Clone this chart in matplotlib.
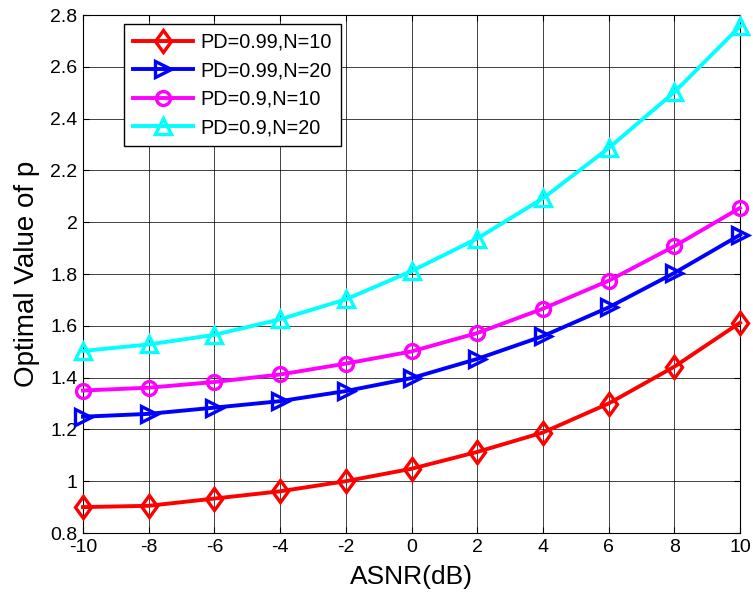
import numpy as np
import matplotlib
matplotlib.use("Agg")
import matplotlib.pyplot as plt
from matplotlib.markers import MarkerStyle
from matplotlib.transforms import Affine2D

# 数据
asnr = [-10, -8, -6, -4, -2, 0, 2, 4, 6, 8, 10]
pd099_n10 = [0.90, 0.905, 0.933, 0.961, 1.00, 1.048, 1.113, 1.188, 1.30, 1.442, 1.612]
pd099_n20 = [1.249, 1.26, 1.284, 1.309, 1.348, 1.398, 1.472, 1.56, 1.671, 1.804, 1.951]
pd09_n10 = [1.35, 1.361, 1.383, 1.412, 1.454, 1.501, 1.572, 1.666, 1.774, 1.907, 2.055]
pd09_n20 = [1.503, 1.528, 1.565, 1.625, 1.702, 1.811, 1.937, 2.092, 2.286, 2.502, 2.756]
labels = ['PD=0.99,N=10', 'PD=0.99,N=20', 'PD=0.9,N=10', 'PD=0.9,N=20']

plt.rcParams['font.family'] = ['Liberation Sans', 'DejaVu Sans']
plt.rcParams['axes.unicode_minus'] = False

fig = plt.figure(figsize=(7.53, 5.97), dpi=100)
ax = fig.add_axes([83 / 753, 1 - 533 / 597, (740 - 83) / 753, (533 - 15) / 597])

# matlab 风格的窄菱形
diamond = MarkerStyle('D', transform=Affine2D().scale(0.75, 1.0))

series = [
    (pd099_n10, '#FF0000', diamond, 11),
    (pd099_n20, '#0000FF', '>', 12),
    (pd09_n10, '#FF00FF', 'o', 10),
    (pd09_n20, '#00FFFF', '^', 12),
]
for (vals, col, mk, ms), lab in zip(series, labels):
    ax.plot(asnr, vals, color=col, marker=mk, markersize=ms, markerfacecolor='none',
            markeredgewidth=2.4, linewidth=2.8, label=lab, clip_on=False, zorder=3)

ax.set_xlim(-10, 10)
ax.set_ylim(0.8, 2.8)
ax.set_xticks(np.arange(-10, 11, 2))
ax.set_yticks(np.arange(0.8, 2.81, 0.2))
ax.set_yticklabels(['0.8', '1', '1.2', '1.4', '1.6', '1.8', '2', '2.2', '2.4', '2.6', '2.8'])
ax.tick_params(direction='in', top=True, right=True, labelsize=14, length=4, pad=4)
ax.grid(True, color='black', linewidth=0.7, alpha=0.75)
for sp in ax.spines.values():
    sp.set_linewidth(0.8)

ax.set_xlabel('ASNR(dB)', fontsize=19, labelpad=7)
ax.set_ylabel('Optimal Value of p', fontsize=20, labelpad=7)

leg = ax.legend(loc='upper left', bbox_to_anchor=(0.063, 0.983), borderaxespad=0,
                fontsize=14.3, fancybox=False, edgecolor='black', framealpha=1,
                handlelength=3.0, borderpad=0.45, labelspacing=0.48, handletextpad=0.4)
leg.get_frame().set_linewidth(1.0)

fig.savefig('out.png', dpi=100)
